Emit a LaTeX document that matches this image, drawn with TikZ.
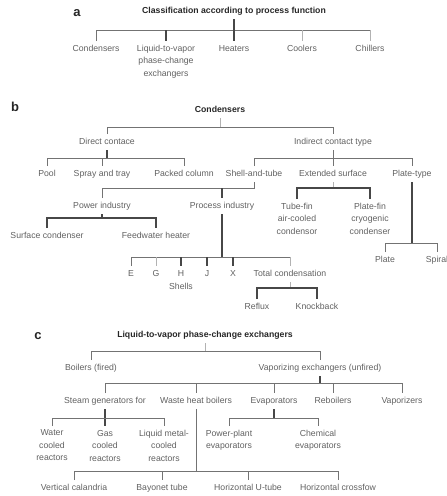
\documentclass[tikz,border=0pt]{standalone}
\usepackage{fontspec}
\setmainfont{Liberation Sans}
\tikzset{
  lbl/.style={anchor=north, inner sep=2pt, outer sep=2pt, text=black!62,
    font=\fontsize{8.7}{12.5}\selectfont, text height=6.3pt, text depth=1.8pt},
  mlbl/.style={anchor=north, inner sep=2pt, outer sep=2pt, text=black!62,
    font=\fontsize{8.7}{12.5}\selectfont, align=center},
  head/.style={lbl, text=black!85, font=\fontsize{8.7}{12.5}\selectfont\bfseries},
  panel/.style={font=\fontsize{13}{13}\selectfont\bfseries, text=black!85},
  link/.style={draw=black!55, line width=0.9pt},
  strong/.style={draw=black!72, line width=1.2pt},
  faint/.style={draw=black!30, line width=0.7pt}
}
\begin{document}
\begin{tikzpicture}[x=1pt, y=1pt]
  \useasboundingbox (0,0) rectangle (447,-496);

  % a
  \node[panel] (la) at (77,-13) {a};
  \node[head] (ta) at (234,-3) {Classification according to process function};
  \node[lbl] (a-cond) at (96,-41) {Condensers};
  \node[mlbl] (a-liq) at (166,-41) {Liquid-to-vapor\\phase-change\\exchangers};
  \node[lbl] (a-heat) at (234,-41) {Heaters};
  \node[lbl] (a-cool) at (302,-41) {Coolers};
  \node[lbl] (a-chill) at (370,-41) {Chillers};
  \coordinate (abus) at (0,-30);
  \draw[link] (a-cond) |- (a-chill |- abus);
  \draw[strong] (ta) -- (a-heat);
  \draw[strong] (a-liq |- abus) -- (a-liq);
  \draw[faint] (a-cool |- abus) -- (a-cool) (a-chill |- abus) -- (a-chill);

  % b
  \node[panel] (lb) at (15,-107) {b};
  \node[head] (tb) at (220,-102) {Condensers};
  \node[lbl] (dc) at (107,-134) {Direct contace};
  \node[lbl] (ic) at (333,-134) {Indirect contact type};
  \node[lbl] (pool) at (47,-166) {Pool};
  \node[lbl] (spray) at (102,-166) {Spray and tray};
  \node[lbl] (packed) at (184,-166) {Packed column};
  \node[lbl] (shell) at (254,-166) {Shell-and-tube};
  \node[lbl] (ext) at (333,-166) {Extended surface};
  \node[lbl] (plate) at (412,-166) {Plate-type};
  \node[lbl] (power) at (102,-198) {Power industry};
  \node[lbl] (proc) at (222,-198) {Process industry};
  \node[mlbl] (tubefin) at (297,-199) {Tube-fin\\air-cooled\\condensor};
  \node[mlbl] (platefin) at (370,-199) {Plate-fin\\cryogenic\\condenser};
  \node[lbl] (surf) at (47,-228) {Surface condenser};
  \node[lbl] (feed) at (156,-228) {Feedwater heater};
  \node[lbl] (plt) at (385,-252) {Plate};
  \node[lbl] (spiral) at (437,-252) {Spiral};
  \node[lbl] (shE) at (131,-266) {E};
  \node[lbl] (shG) at (156,-266) {G};
  \node[lbl] (shH) at (181,-266) {H};
  \node[lbl] (shJ) at (207,-266) {J};
  \node[lbl] (shX) at (233,-266) {X};
  \node[lbl] (total) at (290,-266) {Total condensation};
  \node[lbl] (shells) at (181,-279) {Shells};
  \node[lbl] (reflux) at (257,-299) {Reflux};
  \node[lbl] (knock) at (317,-299) {Knockback};

  \coordinate (bbus) at (0,-127);
  \draw[faint] (tb) -- (tb |- bbus);
  \draw[link] (dc) |- (ic |- bbus) -- (ic);
  \coordinate (dcbus) at (0,-158);
  \draw[strong] (dc) -- (dc |- dcbus);
  \draw[link] (pool) |- (packed |- dcbus) -- (packed) (spray |- dcbus) -- (spray);
  \coordinate (icbus) at (0,-158);
  \draw[link] (ic) -- (ext);
  \draw[link] (shell) |- (plate |- icbus) -- (plate);
  \coordinate (stbus) at (0,-188);
  \draw[link] (power) |- (shell |- stbus) -- (shell);
  \draw[strong] (proc |- stbus) -- (proc);
  \coordinate (pwbus) at (0,-218);
  \draw[strong] (power) -- (power |- pwbus);
  \draw[strong] (surf) |- (feed |- pwbus) -- (feed);
  \coordinate (prbus) at (0,-257);
  \draw[strong] (proc) -- (proc |- prbus);
  \draw[link] (shE) |- (total |- prbus);
  \draw[strong] (shH |- prbus) -- (shH) (shJ |- prbus) -- (shJ) (shX |- prbus) -- (shX);
  \draw[faint] (shG |- prbus) -- (shG) (total |- prbus) -- (total);
  \coordinate (tcbus) at (0,-288);
  \draw[faint] (total) -- (total |- tcbus);
  \draw[strong] (reflux) |- (knock |- tcbus) -- (knock);
  \coordinate (esbus) at (0,-188);
  \draw[faint] (ext) -- (ext |- esbus);
  \draw[strong] (tubefin) |- (platefin |- esbus) -- (platefin);
  \coordinate (ptbus) at (0,-243);
  \draw[strong] (plate) -- (plate |- ptbus);
  \draw[link] (plt) |- (spiral |- ptbus) -- (spiral);

  % c
  \node[panel] (lc) at (38,-336) {c};
  \node[head] (tc) at (205,-327) {Liquid-to-vapor phase-change exchangers};
  \node[lbl] (boil) at (91,-360) {Boilers (fired)};
  \node[lbl] (vap) at (320,-360) {Vaporizing exchangers (unfired)};
  \node[lbl] (steam) at (105,-393) {Steam generators for};
  \node[lbl] (waste) at (196,-393) {Waste heat boilers};
  \node[lbl] (evap) at (274,-393) {Evaporators};
  \node[lbl] (reb) at (333,-393) {Reboilers};
  \node[lbl] (vzr) at (402,-393) {Vaporizers};
  \node[mlbl] (water) at (52,-426) {Water\\cooled\\reactors};
  \node[mlbl] (gas) at (105,-426) {Gas\\cooled\\reactors};
  \node[mlbl] (lmc) at (164,-426) {Liquid metal-\\cooled\\reactors};
  \node[mlbl] (pp) at (229,-426) {Power-plant\\evaporators};
  \node[mlbl] (chem) at (318,-426) {Chemical\\evaporators};
  \node[lbl] (vc) at (74,-480) {Vertical calandria};
  \node[lbl] (bay) at (162,-480) {Bayonet tube};
  \node[lbl] (hu) at (248,-480) {Horizontal U-tube};
  \node[lbl] (hc) at (338,-480) {Horizontal crossfow};

  \coordinate (cbus) at (0,-351);
  \draw[faint] (tc) -- (tc |- cbus);
  \draw[link] (boil) |- (vap |- cbus) -- (vap);
  \coordinate (vbus) at (0,-383);
  \draw[strong] (vap) -- (vap |- vbus);
  \draw[link] (steam) |- (vzr |- vbus) -- (vzr) (waste |- vbus) -- (waste)
    (evap |- vbus) -- (evap) (reb |- vbus) -- (reb);
  \coordinate (sgbus) at (0,-418);
  \draw[strong] (steam) -- (gas);
  \draw[link] (water) |- (lmc |- sgbus) -- (lmc);
  \coordinate (evbus) at (0,-418);
  \draw[strong] (evap) -- (evap |- evbus);
  \draw[link] (pp) |- (chem |- evbus) -- (chem);
  \coordinate (whbus) at (0,-471);
  \draw[link] (waste) -- (waste |- whbus);
  \draw[link] (vc) |- (hc |- whbus) -- (hc) (bay |- whbus) -- (bay) (hu |- whbus) -- (hu);
\end{tikzpicture}
\end{document}
